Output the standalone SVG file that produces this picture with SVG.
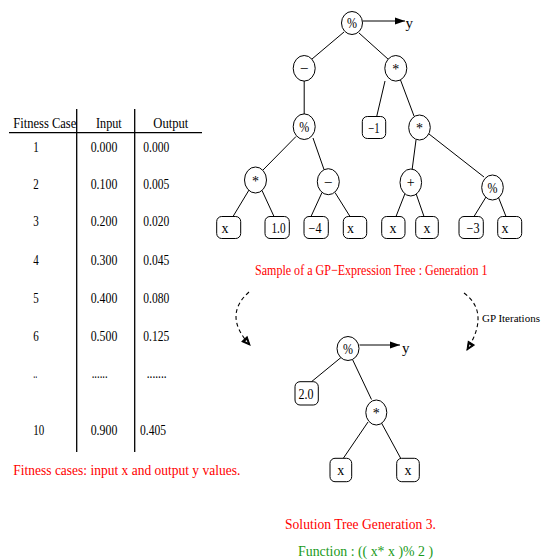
<svg xmlns="http://www.w3.org/2000/svg" width="544" height="560" viewBox="0 0 544 560">
<style>
text{font-family:"Liberation Serif","Times New Roman",serif;fill:#000}
.t{font-size:15px}
.n{font-size:14px;text-anchor:middle}
.red{fill:#ff0000;font-size:15px}
.grn{fill:#1a9a1a;font-size:15px}
.small{font-size:11px}
.node ellipse,.node rect{fill:#fff;stroke:#000;stroke-width:1}
.edges line{stroke:#000;stroke-width:1}
.tbl line{stroke:#000;stroke-width:1.3}
.dash{fill:none;stroke:#000;stroke-width:1.1;stroke-dasharray:4 3}
</style>
<defs>
<marker id="ah" markerUnits="userSpaceOnUse" markerWidth="10" markerHeight="8" refX="10" refY="3.5" orient="auto" overflow="visible">
<path d="M0,0 L10,3.5 L0,7 z" fill="#000"/>
</marker>
<marker id="oh" markerUnits="userSpaceOnUse" markerWidth="9" markerHeight="8" refX="8" refY="3.5" orient="auto" overflow="visible">
<path d="M0,0 L8,3.5 L0,7 z" fill="#000" stroke="#000" stroke-width="1"/>
<path d="M2,2.6 L4.5,3.5 L2,4.4 z" fill="#fff"/>
</marker>
</defs>
<rect width="544" height="560" fill="#fff"/>

<!-- Table -->
<g class="tbl">
<line x1="9" y1="132.7" x2="202" y2="132.7"/>
<line x1="76.7" y1="109" x2="76.7" y2="452"/>
<line x1="134.7" y1="109" x2="134.7" y2="452"/>
<text class="t" x="13.3" y="127.5" textLength="63" lengthAdjust="spacingAndGlyphs">Fitness Case</text>
<text class="t" x="96" y="127.5" textLength="25.7" lengthAdjust="spacingAndGlyphs">Input</text>
<text class="t" x="153.3" y="127.5" textLength="35" lengthAdjust="spacingAndGlyphs">Output</text>

<text class="t" x="33.3" y="151.7" textLength="5.5" lengthAdjust="spacingAndGlyphs">1</text>
<text class="t" x="90.7" y="151.7" textLength="26.6" lengthAdjust="spacingAndGlyphs">0.000</text>
<text class="t" x="143.3" y="151.7" textLength="26" lengthAdjust="spacingAndGlyphs">0.000</text>

<text class="t" x="33.3" y="188.7" textLength="5.5" lengthAdjust="spacingAndGlyphs">2</text>
<text class="t" x="90.7" y="188.7" textLength="26.6" lengthAdjust="spacingAndGlyphs">0.100</text>
<text class="t" x="143.3" y="188.7" textLength="26" lengthAdjust="spacingAndGlyphs">0.005</text>

<text class="t" x="33.3" y="226" textLength="5.5" lengthAdjust="spacingAndGlyphs">3</text>
<text class="t" x="90.7" y="226" textLength="26.6" lengthAdjust="spacingAndGlyphs">0.200</text>
<text class="t" x="143.3" y="226" textLength="26" lengthAdjust="spacingAndGlyphs">0.020</text>

<text class="t" x="33.3" y="264.5" textLength="5.5" lengthAdjust="spacingAndGlyphs">4</text>
<text class="t" x="90.7" y="264.5" textLength="26.6" lengthAdjust="spacingAndGlyphs">0.300</text>
<text class="t" x="143.3" y="264.5" textLength="26" lengthAdjust="spacingAndGlyphs">0.045</text>

<text class="t" x="33.3" y="302.5" textLength="5.5" lengthAdjust="spacingAndGlyphs">5</text>
<text class="t" x="90.7" y="302.5" textLength="26.6" lengthAdjust="spacingAndGlyphs">0.400</text>
<text class="t" x="143.3" y="302.5" textLength="26" lengthAdjust="spacingAndGlyphs">0.080</text>

<text class="t" x="33.3" y="340.5" textLength="5.5" lengthAdjust="spacingAndGlyphs">6</text>
<text class="t" x="90.7" y="340.5" textLength="26.6" lengthAdjust="spacingAndGlyphs">0.500</text>
<text class="t" x="143.3" y="340.5" textLength="26" lengthAdjust="spacingAndGlyphs">0.125</text>

<text class="t" x="33.3" y="378" textLength="4" lengthAdjust="spacingAndGlyphs">..</text>
<text class="t" x="91.7" y="378" textLength="16" lengthAdjust="spacingAndGlyphs">......</text>
<text class="t" x="146.7" y="378" textLength="20" lengthAdjust="spacingAndGlyphs">.......</text>

<text class="t" x="33.3" y="434.5" textLength="11" lengthAdjust="spacingAndGlyphs">10</text>
<text class="t" x="90.7" y="434.5" textLength="26.6" lengthAdjust="spacingAndGlyphs">0.900</text>
<text class="t" x="140" y="434.5" textLength="26" lengthAdjust="spacingAndGlyphs">0.405</text>
</g>
<text class="red" x="13.3" y="475" textLength="227" lengthAdjust="spacingAndGlyphs">Fitness cases: input x and output y values.</text>

<!-- Connectors -->
<g class="edges" id="connectors">
<line x1="362.5" y1="21" x2="405" y2="21" marker-end="url(#ah)"/>
<line x1="344" y1="32" x2="312" y2="59"/>
<line x1="359" y1="33" x2="388.5" y2="59.5"/>
<line x1="304.2" y1="81" x2="304.2" y2="114.5"/>
<line x1="385" y1="81" x2="376.7" y2="116.5"/>
<line x1="400.5" y1="80" x2="414" y2="116"/>
<line x1="296" y1="136.5" x2="263" y2="170"/>
<line x1="313" y1="138" x2="324" y2="169.5"/>
<line x1="416" y1="140" x2="412" y2="170.5"/>
<line x1="429" y1="134" x2="484" y2="177"/>
<line x1="249" y1="190" x2="233" y2="216.5"/>
<line x1="262" y1="190.5" x2="274" y2="216.5"/>
<line x1="322" y1="192.5" x2="311" y2="216.5"/>
<line x1="335" y1="192.5" x2="350" y2="216.5"/>
<line x1="405" y1="193.5" x2="396" y2="216.5"/>
<line x1="416" y1="193.5" x2="424" y2="216.5"/>
<line x1="486" y1="197" x2="474" y2="216.5"/>
<line x1="498.5" y1="197.5" x2="506" y2="216.5"/>

<line x1="359.5" y1="345" x2="400" y2="345" marker-end="url(#ah)"/>
<line x1="341" y1="357.5" x2="311.5" y2="381.7"/>
<line x1="352.5" y1="359.5" x2="371.5" y2="399.5"/>
<line x1="368" y1="422" x2="343.3" y2="458.3"/>
<line x1="381.5" y1="423" x2="400.7" y2="458.3"/>

<path class="dash" d="M249,292 Q222.5,315.5 250,345" marker-end="url(#oh)"/>
<path class="dash" d="M464,293 Q490.5,312.5 467,350" marker-end="url(#oh)"/>
</g>

<!-- Top tree nodes -->
<g class="node" id="n-root"><ellipse cx="352" cy="23" rx="10.5" ry="11.5"/><text class="n" x="352" y="28" textLength="10" lengthAdjust="spacingAndGlyphs">%</text></g>
<text class="t" x="405.5" y="27.5">y</text>
<g class="node" id="n-minus1"><ellipse cx="304.2" cy="68.3" rx="11" ry="12.8"/><text class="n" x="304.2" y="72">–</text></g>
<g class="node" id="n-mul1"><ellipse cx="395.8" cy="68.3" rx="11" ry="12.8"/><text class="n" x="395.8" y="74">*</text></g>
<g class="node" id="n-mod2"><ellipse cx="304.2" cy="126.7" rx="11" ry="12.8"/><text class="n" x="304.2" y="131.5" textLength="10" lengthAdjust="spacingAndGlyphs">%</text></g>
<g class="node" id="n-neg1"><rect x="362.3" y="116.5" width="23.4" height="22" rx="5"/><text class="n" x="374" y="132.5" textLength="11.5" lengthAdjust="spacingAndGlyphs">−1</text></g>
<g class="node" id="n-mul2"><ellipse cx="419.5" cy="127.5" rx="10.8" ry="12.5"/><text class="n" x="419.5" y="133">*</text></g>
<g class="node" id="n-mul3"><ellipse cx="255.5" cy="180" rx="11" ry="13"/><text class="n" x="255.5" y="185.5">*</text></g>
<g class="node" id="n-minus2"><ellipse cx="328.3" cy="181.7" rx="11" ry="13"/><text class="n" x="328.3" y="185.5">–</text></g>
<g class="node" id="n-plus"><ellipse cx="410.8" cy="182.5" rx="10.8" ry="13.5"/><text class="n" x="410.8" y="187">+</text></g>
<g class="node" id="n-mod3"><ellipse cx="492.5" cy="187.5" rx="10.8" ry="12.5"/><text class="n" x="492.5" y="192.5" textLength="10" lengthAdjust="spacingAndGlyphs">%</text></g>

<g class="node" id="l1"><rect x="216.7" y="216.5" width="24" height="22" rx="5"/><text class="n" x="225" y="232.7">x</text></g>
<g class="node" id="l2"><rect x="265" y="216.5" width="24.3" height="22" rx="5"/><text class="n" x="278.5" y="232.7" textLength="14" lengthAdjust="spacingAndGlyphs">1.0</text></g>
<g class="node" id="l3"><rect x="304" y="216.5" width="24.3" height="22" rx="5"/><text class="n" x="315" y="232.7" textLength="13" lengthAdjust="spacingAndGlyphs">−4</text></g>
<g class="node" id="l4"><rect x="343.3" y="216.5" width="23.4" height="22" rx="5"/><text class="n" x="350.5" y="232.7">x</text></g>
<g class="node" id="l5"><rect x="381.7" y="216.5" width="23.3" height="22" rx="5"/><text class="n" x="393" y="232.7">x</text></g>
<g class="node" id="l6"><rect x="415.7" y="216.5" width="22.6" height="22" rx="5"/><text class="n" x="427" y="232.7">x</text></g>
<g class="node" id="l7"><rect x="459" y="216.5" width="24.3" height="22" rx="5"/><text class="n" x="473" y="232.7" textLength="13" lengthAdjust="spacingAndGlyphs">−3</text></g>
<g class="node" id="l8"><rect x="497.7" y="216.5" width="24" height="22" rx="5"/><text class="n" x="505" y="232.7">x</text></g>

<text class="red" x="255" y="275" textLength="232.5" lengthAdjust="spacingAndGlyphs">Sample of a GP−Expression Tree : Generation 1</text>
<text class="small" x="482" y="322">GP Iterations</text>

<!-- Bottom tree nodes -->
<g class="node" id="s-root"><ellipse cx="348" cy="348.5" rx="11" ry="12"/><text class="n" x="348" y="353.5" textLength="10" lengthAdjust="spacingAndGlyphs">%</text></g>
<text class="t" x="402" y="353">y</text>
<g class="node" id="s-two"><rect x="295" y="381.7" width="23.3" height="23.3" rx="5"/><text class="n" x="306" y="398.5" textLength="15" lengthAdjust="spacingAndGlyphs">2.0</text></g>
<g class="node" id="s-mul"><ellipse cx="376.3" cy="412.5" rx="10.5" ry="12.5"/><text class="n" x="376.3" y="418">*</text></g>
<g class="node" id="s-x1"><rect x="330" y="458.3" width="21.7" height="23.4" rx="5"/><text class="n" x="340.8" y="475">x</text></g>
<g class="node" id="s-x2"><rect x="396.7" y="458.3" width="22.6" height="23.4" rx="5"/><text class="n" x="408" y="475">x</text></g>

<text class="red" x="285" y="528.5" textLength="151" lengthAdjust="spacingAndGlyphs">Solution Tree Generation 3.</text>
<text class="grn" x="298" y="556" textLength="135" lengthAdjust="spacingAndGlyphs">Function : (( x* x )% 2 )</text>
</svg>
